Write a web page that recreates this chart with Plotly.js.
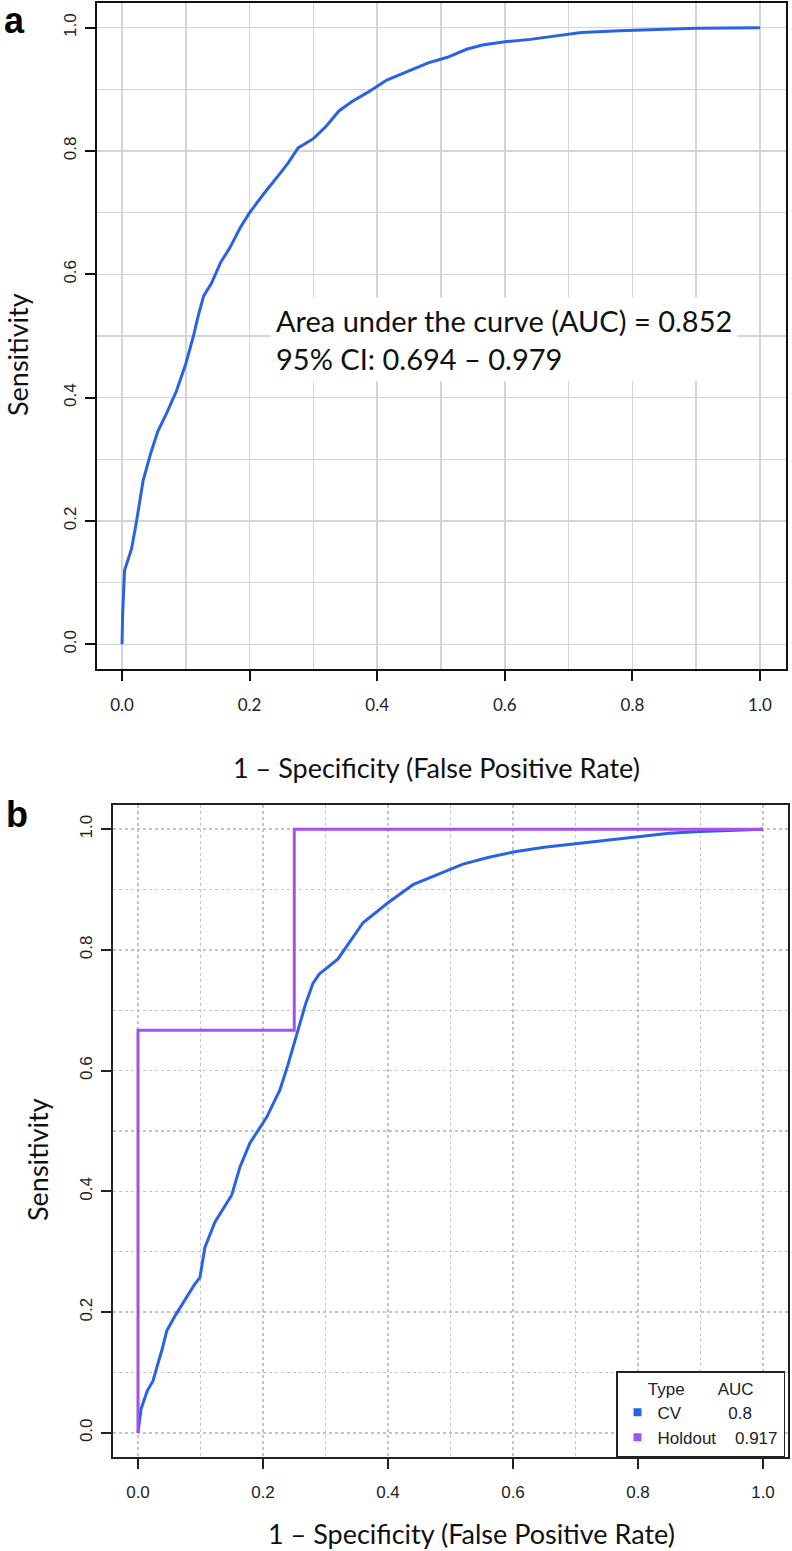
<!DOCTYPE html>
<html>
<head>
<meta charset="utf-8">
<script src="https://cdn.plot.ly/plotly-3.0.1.min.js"></script>
<style>
  body { margin: 0; background: #fff; }
  #chart { width: 792px; height: 1551px; }
</style>
</head>
<body>
<div id="chart"></div>
<script>
// Panel a: single ROC curve
const rocFprA = [0, 0.001, 0.004, 0.015, 0.022, 0.033, 0.045, 0.056, 0.07, 0.085, 0.1, 0.112, 0.12, 0.128, 0.14,
    0.155, 0.169, 0.185, 0.2, 0.221, 0.245, 0.26, 0.276, 0.3, 0.32, 0.34, 0.36, 0.385, 0.415, 0.45, 0.48, 0.51,
    0.54, 0.565, 0.6, 0.64, 0.68, 0.72, 0.78, 0.85, 0.9, 1];
const rocTprA = [0, 0.05, 0.12, 0.155, 0.195, 0.265, 0.31, 0.345, 0.375, 0.41, 0.455, 0.5, 0.535, 0.565, 0.585,
    0.62, 0.643, 0.675, 0.7, 0.729, 0.76, 0.78, 0.805, 0.82, 0.84, 0.865, 0.88, 0.895, 0.915, 0.93, 0.943, 0.952,
    0.965, 0.972, 0.977, 0.981, 0.987, 0.992, 0.995, 0.997, 0.999, 1];
const aucLine = 'Area under the curve (AUC) = 0.852';
const ciLine = '95% CI: 0.694 \u2013 0.979';

// Panel b: cross-validation vs holdout
const cvFpr = [0, 0.002, 0.005, 0.015, 0.024, 0.032, 0.038, 0.046, 0.06, 0.075, 0.09, 0.099, 0.107, 0.123, 0.15,
    0.163, 0.179, 0.206, 0.227, 0.24, 0.256, 0.268, 0.28, 0.29, 0.32, 0.34, 0.36, 0.4, 0.44, 0.48, 0.52, 0.56,
    0.6, 0.65, 0.7, 0.75, 0.8, 0.85, 0.9, 0.95, 1];
const cvTpr = [0, 0.02, 0.04, 0.07, 0.086, 0.115, 0.136, 0.169, 0.195, 0.22, 0.245, 0.257, 0.307, 0.349, 0.394,
    0.44, 0.48, 0.523, 0.568, 0.61, 0.665, 0.71, 0.745, 0.76, 0.785, 0.815, 0.845, 0.878, 0.908, 0.925, 0.942, 0.953,
    0.962, 0.97, 0.976, 0.982, 0.988, 0.993, 0.996, 0.998, 1];
const holdoutFpr = [0, 0, 0.25, 0.25, 1];
const holdoutTpr = [0, 0.667, 0.667, 1, 1];
const legendTypes = ['CV', 'Holdout'];
const legendAuc = ['0.8', '0.917'];

const tickVals = [0, 0.2, 0.4, 0.6, 0.8, 1.0];
const tickLabels = ['0.0', '0.2', '0.4', '0.6', '0.8', '1.0'];
const xTitle = '1 \u2013 Specificity (False Positive Rate)';
const yTitle = 'Sensitivity';

const BLUE = '#2a62e6';
const PURPLE = '#a64ff0';
const W = 792, H = 1551;
const px = v => v / W;
const py = v => 1 - v / H;
const nb = n => '\u00a0'.repeat(n);

const calibri = 'Lato, "Open Sans", sans-serif';
const arial = '"Liberation Sans", Arial, sans-serif';

function axisBase(extra) {
    return Object.assign({
        range: [-0.04, 1.04],
        tickvals: tickVals,
        ticktext: tickLabels,
        ticks: 'outside',
        ticklen: 10,
        tickwidth: 2,
        showline: true,
        mirror: true,
        linewidth: 2,
        zeroline: false,
        fixedrange: true
    }, extra);
}

const gridA = {dtick: 0.1, tick0: 0, showgrid: true, gridcolor: '#d4d4d4', gridwidth: 1.5, ticks: ''};
const gridB = {dtick: 0.1, tick0: 0, showgrid: true, gridcolor: '#c4c4c4', gridwidth: 1.5, griddash: 'dot', ticks: ''};

const traces = [
    {x: rocFprA, y: rocTprA, type: 'scatter', mode: 'lines', line: {color: BLUE, width: 3},
     xaxis: 'x', yaxis: 'y', showlegend: false},
    {x: cvFpr, y: cvTpr, type: 'scatter', mode: 'lines', line: {color: BLUE, width: 3},
     xaxis: 'x2', yaxis: 'y2', showlegend: false},
    {x: holdoutFpr, y: holdoutTpr, type: 'scatter', mode: 'lines', line: {color: PURPLE, width: 3},
     xaxis: 'x2', yaxis: 'y2', showlegend: false}
];

// legend entries: square swatches, AUC column padded with spaces
const pads = [10, 4];
const colors = [BLUE, PURPLE];
legendTypes.forEach(function(t, i) {
    traces.push({
        x: [null], y: [null], type: 'scatter', mode: 'markers',
        marker: {symbol: 'square', size: 8, color: colors[i]},
        name: t + nb(pads[i]) + legendAuc[i],
        xaxis: 'x2', yaxis: 'y2', showlegend: true
    });
});

const layout = {
    width: W,
    height: H,
    margin: {l: 0, r: 0, t: 0, b: 0},
    paper_bgcolor: '#fff',
    plot_bgcolor: '#fff',
    showlegend: true,
    xaxis: axisBase({
        domain: [px(96.5), px(785.5)], anchor: 'y',
        linecolor: '#111', tickcolor: '#111', showgrid: true, gridcolor: '#d4d4d4', gridwidth: 1.5,
        minor: gridA, ticklabelstandoff: 10,
        tickfont: {family: calibri, size: 17, color: '#222'}
    }),
    yaxis: axisBase({
        domain: [py(669), py(3)], anchor: 'x',
        linecolor: '#111', tickcolor: '#111', showgrid: true, gridcolor: '#d4d4d4', gridwidth: 1.5,
        minor: gridA, tickangle: -90, ticklabelstandoff: 2,
        tickfont: {family: arial, size: 17, color: '#222'}
    }),
    xaxis2: axisBase({
        domain: [px(113), px(788)], anchor: 'y2',
        linecolor: '#222', tickcolor: '#222', showgrid: true, gridcolor: '#c4c4c4', gridwidth: 1.5, griddash: 'dot',
        minor: gridB, ticklabelstandoff: 9,
        tickfont: {family: arial, size: 17, color: '#222'}
    }),
    yaxis2: axisBase({
        domain: [py(1457), py(805)], anchor: 'x2',
        linecolor: '#222', tickcolor: '#222', showgrid: true, gridcolor: '#c4c4c4', gridwidth: 1.5, griddash: 'dot',
        minor: gridB, tickangle: -90, ticklabelstandoff: 2,
        tickfont: {family: arial, size: 17, color: '#222'}
    }),
    legend: {
        x: px(785), y: py(1457), xanchor: 'right', yanchor: 'bottom',
        bgcolor: '#fff', bordercolor: '#222', borderwidth: 1.5,
        font: {family: arial, size: 17, color: '#222'},
        title: {text: nb(6) + 'Type' + nb(7) + 'AUC', font: {family: arial, size: 17, color: '#222'}},
        itemwidth: 30
    },
    annotations: [
        {text: '<b>a</b>', x: px(4), y: py(0), xref: 'paper', yref: 'paper', xanchor: 'left', yanchor: 'top',
         showarrow: false, borderpad: 0, borderwidth: 0, font: {family: arial, size: 36, color: '#000'}},
        {text: '<b>b</b>', x: px(4), y: py(814), xref: 'paper', yref: 'paper', xanchor: 'left', yanchor: 'middle',
         showarrow: false, font: {family: arial, size: 36, color: '#000'}},
        {text: aucLine + '<br>' + ciLine, x: px(270), y: py(297), xref: 'paper', yref: 'paper',
         xanchor: 'left', yanchor: 'top', align: 'left', showarrow: false, bgcolor: '#fff', borderpad: 5,
         font: {family: calibri, size: 29, color: '#111'}},
        {text: xTitle, x: px(436), y: py(768), xref: 'paper', yref: 'paper', xanchor: 'center', yanchor: 'middle',
         showarrow: false, font: {family: calibri, size: 27, color: '#111'}},
        {text: yTitle, x: px(17), y: py(355), xref: 'paper', yref: 'paper', xanchor: 'center', yanchor: 'middle',
         textangle: -90, showarrow: false, font: {family: calibri, size: 27, color: '#111'}},
        {text: xTitle, x: px(471), y: py(1533), xref: 'paper', yref: 'paper', xanchor: 'center', yanchor: 'middle',
         showarrow: false, font: {family: calibri, size: 27, color: '#111'}},
        {text: yTitle, x: px(37), y: py(1160), xref: 'paper', yref: 'paper', xanchor: 'center', yanchor: 'middle',
         textangle: -90, showarrow: false, font: {family: calibri, size: 27, color: '#111'}}
    ]
};

document.addEventListener('DOMContentLoaded', function() {
    Plotly.newPlot('chart', traces, layout, {displayModeBar: false, staticPlot: true});
});
</script>
</body>
</html>
